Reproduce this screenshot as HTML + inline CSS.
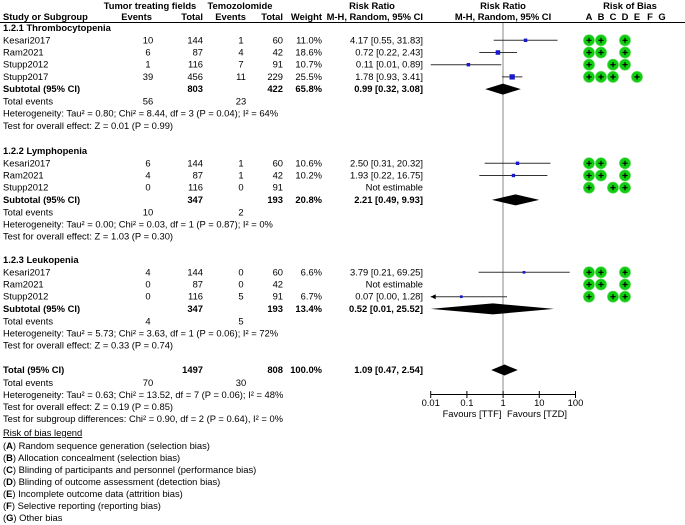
<!DOCTYPE html>
<html><head><meta charset="utf-8"><style>
html,body{margin:0;padding:0;background:#fff;}
svg{display:block;font-family:"Liberation Sans",Arial,sans-serif;font-size:9.4px;}
.b{font-weight:bold;}
</style></head><body>
<svg id="plot" width="685" height="525" viewBox="0 0 685 525" xmlns="http://www.w3.org/2000/svg">
<g>
<text x="150" y="9" text-anchor="middle" class="b">Tumor treating fields</text>
<text x="240" y="9" text-anchor="middle" class="b">Temozolomide</text>
<text x="372" y="9" text-anchor="middle" class="b">Risk Ratio</text>
<text x="503" y="9" text-anchor="middle" class="b">Risk Ratio</text>
<text x="630" y="9" text-anchor="middle" class="b">Risk of Bias</text>
<text x="3" y="20" class="b">Study or Subgroup</text>
<text x="152" y="20" text-anchor="end" class="b">Events</text>
<text x="203" y="20" text-anchor="end" class="b">Total</text>
<text x="246" y="20" text-anchor="end" class="b">Events</text>
<text x="283" y="20" text-anchor="end" class="b">Total</text>
<text x="322" y="20" text-anchor="end" class="b">Weight</text>
<text x="423" y="20" text-anchor="end" class="b">M-H, Random, 95% CI</text>
<text x="503" y="20" text-anchor="middle" class="b">M-H, Random, 95% CI</text>
<text x="589" y="20" text-anchor="middle" class="b">A</text>
<text x="601" y="20" text-anchor="middle" class="b">B</text>
<text x="613" y="20" text-anchor="middle" class="b">C</text>
<text x="625" y="20" text-anchor="middle" class="b">D</text>
<text x="637" y="20" text-anchor="middle" class="b">E</text>
<text x="650" y="20" text-anchor="middle" class="b">F</text>
<text x="662" y="20" text-anchor="middle" class="b">G</text>
<line x1="0" y1="22.5" x2="685" y2="22.5" stroke="#000" stroke-width="1"/>
</g>
<line x1="503" y1="23" x2="503" y2="394" stroke="#888" stroke-width="1"/>
<g id="rows"></g>
<g>
<line x1="430.7" y1="394.5" x2="575.5" y2="394.5" stroke="#000"/>
</g>
<g id="ticks"></g>
<text x="472" y="417" text-anchor="middle">Favours [TTF]</text>
<text x="537" y="417" text-anchor="middle">Favours [TZD]</text>
<g>
<text x="3" y="436" text-decoration="underline">Risk of bias legend </text>
<text x="3" y="449">(<tspan class="b">A</tspan>) Random sequence generation (selection bias)</text>
<text x="3" y="461">(<tspan class="b">B</tspan>) Allocation concealment (selection bias)</text>
<text x="3" y="473">(<tspan class="b">C</tspan>) Blinding of participants and personnel (performance bias)</text>
<text x="3" y="485">(<tspan class="b">D</tspan>) Blinding of outcome assessment (detection bias)</text>
<text x="3" y="497">(<tspan class="b">E</tspan>) Incomplete outcome data (attrition bias)</text>
<text x="3" y="509">(<tspan class="b">F</tspan>) Selective reporting (reporting bias)</text>
<text x="3" y="521">(<tspan class="b">G</tspan>) Other bias</text>
</g>
</svg>
<script>
// ---- data ----
const studyNames = ["Kesari2017","Ram2021","Stupp2012","Stupp2017","Kesari2017","Ram2021","Stupp2012","Kesari2017","Ram2021","Stupp2012"];
const studyGroup = [0,0,0,0,1,1,1,2,2,2];
const ttfEvents = [10,6,1,39,6,4,0,4,0,0];
const ttfTotal = [144,87,116,456,144,87,116,144,87,116];
const tmzEvents = [1,4,7,11,1,1,0,0,0,5];
const tmzTotal = [60,42,91,229,60,42,91,60,42,91];
const weights = [11.0,18.6,10.7,25.5,10.6,10.2,null,6.6,null,6.7];
const rrValues = [4.17,0.72,0.11,1.78,2.50,1.93,null,3.79,null,0.07];
const ciLow = [0.55,0.22,0.01,0.93,0.31,0.22,null,0.21,null,0.00];
const ciHigh = [31.83,2.43,0.89,3.41,20.32,16.75,null,69.25,null,1.28];
const biasRatings = ["ABD","ABD","ACD","ABCE","ABD","ABD","ACD","ABD","ABD","ACD"];
const groupTitles = ["1.2.1 Thrombocytopenia","1.2.2 Lymphopenia","1.2.3 Leukopenia"];
const subTtfTotal = [803,347,347];
const subTmzTotal = [422,193,193];
const subWeight = [65.8,20.8,13.4];
const subRR = [0.99,2.21,0.52];
const subLow = [0.32,0.49,0.01];
const subHigh = [3.08,9.93,25.52];
const subTtfEvents = [56,10,4];
const subTmzEvents = [23,2,5];
const subHetero = ["Heterogeneity: Tau² = 0.80; Chi² = 8.44, df = 3 (P = 0.04); I² = 64%","Heterogeneity: Tau² = 0.00; Chi² = 0.03, df = 1 (P = 0.87); I² = 0%","Heterogeneity: Tau² = 5.73; Chi² = 3.63, df = 1 (P = 0.06); I² = 72%"];
const subEffect = ["Test for overall effect: Z = 0.01 (P = 0.99)","Test for overall effect: Z = 1.03 (P = 0.30)","Test for overall effect: Z = 0.33 (P = 0.74)"];
const totalRR = 1.09, totalLow = 0.47, totalHigh = 2.54;
const tickValues = [0.01,0.1,1,10,100];
const tickLabels = ["0.01","0.1","1","10","100"];

// ---- layout ----
const NS = "http://www.w3.org/2000/svg";
const xMin = 0.01, xMax = 100, pxMin = 430.7, pxMax = 575.5;
function xScale(v){ const c = Math.max(xMin, Math.min(xMax, v)); return pxMin + (Math.log10(c) - Math.log10(xMin)) / (Math.log10(xMax) - Math.log10(xMin)) * (pxMax - pxMin); }
const rows = document.getElementById('rows');
function mk(tag, attrs, parent){ const e = document.createElementNS(NS, tag); for (const k in attrs) e.setAttribute(k, attrs[k]); (parent||rows).appendChild(e); return e; }
function txt(x, y, s, anchor, bold){ const t = mk('text', {x:x, y:y+3, 'text-anchor':anchor||'start'}); if (bold) t.setAttribute('class','b'); t.textContent = s; return t; }
function f2(v){ return v.toFixed(2); }
function diamond(cy, rr, lo, hi){ return mk('polygon', {points: xScale(lo)+","+cy+" "+xScale(rr)+","+(cy-5.5)+" "+xScale(hi)+","+cy+" "+xScale(rr)+","+(cy+5.5), fill:'#000'}); }

const groupHeaderY = [28, 151, 260];
const biasX = {A:589,B:601,C:613,D:625,E:637,F:650,G:662};
for (let g = 0; g < 3; g++) {
  const hy = groupHeaderY[g];
  const h = txt(3, hy, groupTitles[g], 'start', true);
  
  
  let y = hy + 12.3;
  for (let i = 0; i < studyNames.length; i++) {
    if (studyGroup[i] !== g) continue;
    const r = mk('g', {});
    
    
    const cells = [[3,studyNames[i],'start'],[148,String(ttfEvents[i]),'middle'],[203,String(ttfTotal[i]),'end'],[241,String(tmzEvents[i]),'middle'],[283,String(tmzTotal[i]),'end'],[322,weights[i]==null?'':weights[i].toFixed(1)+'%','end'],[423,rrValues[i]==null?'Not estimable':f2(rrValues[i])+' ['+f2(ciLow[i])+', '+f2(ciHigh[i])+']','end']];
    cells.forEach(function(c){ const t = mk('text',{x:c[0],y:y+3,'text-anchor':c[2]},r); t.textContent = c[1]; });
    if (rrValues[i] != null) {
      const x1 = xScale(ciLow[i]), x2 = xScale(ciHigh[i]);
      const ln = mk('line', {x1:x1, y1:y, x2:x2, y2:y, stroke:'#333', 'stroke-width':1}, r);
      
      
      if (ciLow[i] < xMin) {
        const ar = mk('polygon', {points: x1+","+y+" "+(x1+5)+","+(y-2.5)+" "+(x1+5)+","+(y+2.5), fill:'#000'}, r);
        
        
      }
      const s = Math.sqrt(weights[i]) * 1.05;
      const sq = mk('rect', {x:xScale(rrValues[i]) - s/2, y:y - s/2, width:s, height:s, fill:'#1a1acc'}, r);
      
      
    }
    biasRatings[i].split('').forEach(function(k){
      const cx = biasX[k];
      const c = mk('circle', {cx:cx, cy:y, r:5.6, fill:'#11cc11', stroke:'#66dd66', 'stroke-width':0.6}, r);
      
      
      mk('path', {d:'M'+(cx-2.6)+' '+y+'H'+(cx+2.6)+'M'+cx+' '+(y-2.6)+'V'+(y+2.6), stroke:'#000', 'stroke-width':1.2}, r);
    });
    y += 12.2;
  }
  const sub = mk('g', {});
  
  
  [[3,'Subtotal (95% CI)','start'],[203,String(subTtfTotal[g]),'end'],[283,String(subTmzTotal[g]),'end'],[322,subWeight[g].toFixed(1)+'%','end'],[423,f2(subRR[g])+' ['+f2(subLow[g])+', '+f2(subHigh[g])+']','end']].forEach(function(c){ const t = mk('text',{x:c[0],y:y+3,'text-anchor':c[2],'class':'b'},sub); t.textContent = c[1]; });
  const d = diamond(y, subRR[g], subLow[g], subHigh[g]);
  
  
  y += 12.4;
  txt(3, y, 'Total events'); txt(148, y, String(subTtfEvents[g]), 'middle'); txt(241, y, String(subTmzEvents[g]), 'middle');
  y += 12.2; txt(3, y, subHetero[g]);
  y += 12.2; txt(3, y, subEffect[g]);
}
// overall
let ty = 370;
txt(3, ty, 'Total (95% CI)', 'start', true); txt(203, ty, '1497', 'end', true); txt(283, ty, '808', 'end', true); txt(322, ty, '100.0%', 'end', true);
txt(423, ty, f2(totalRR)+' ['+f2(totalLow)+', '+f2(totalHigh)+']', 'end', true);
const td = diamond(ty, totalRR, totalLow, totalHigh);


txt(3, 383, 'Total events'); txt(148, 383, '70', 'middle'); txt(241, 383, '30', 'middle');
txt(3, 395, 'Heterogeneity: Tau² = 0.63; Chi² = 13.52, df = 7 (P = 0.06); I² = 48%');
txt(3, 407, 'Test for overall effect: Z = 0.19 (P = 0.85)');
txt(3, 419, 'Test for subgroup differences: Chi² = 0.90, df = 2 (P = 0.64), I² = 0%');
// ticks
const tg = document.getElementById('ticks');
tickValues.forEach(function(v, i){
  const x = xScale(v);
  const l = mk('line', {x1:x, y1:391, x2:x, y2:398, stroke:'#000'}, tg);
  
  
  const t = mk('text', {x:x, y:406, 'text-anchor':'middle'}, tg);
  
  
  t.textContent = tickLabels[i];
});
</script>
</body></html>
